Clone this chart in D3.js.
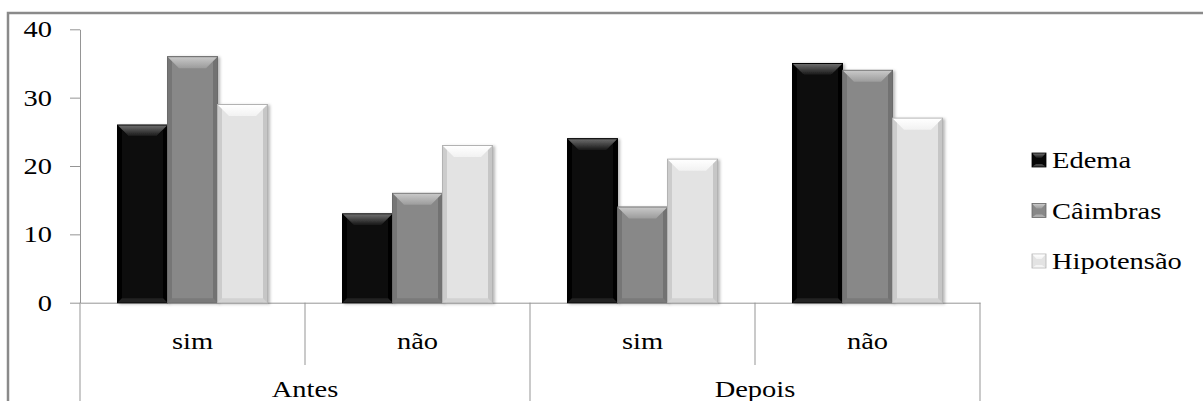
<!DOCTYPE html>
<html>
<head>
<meta charset="utf-8">
<script src="https://cdn.jsdelivr.net/npm/d3@7"></script>
<style>
  body { margin: 0; background: #fff; }
</style>
</head>
<body>
<div id="chart"></div>
<script>
// data
const groups = ['Antes', 'Depois'];
const answers = ['sim', 'não'];
const series = ['Edema', 'Câimbras', 'Hipotensão'];
const edema = [26, 13, 24, 35];
const caimbras = [36, 16, 14, 34];
const hipotensao = [29, 23, 21, 27];
const yTicks = [0, 10, 20, 30, 40];

const width = 1203;
const height = 401;
const stretch = 1.24;   // text in the picture is a bit wider than tall
const fontSize = 23;
const serif = '"Liberation Serif", "Times New Roman", "DejaVu Serif", serif';

const categories = [];
groups.forEach(g => answers.forEach(a => categories.push(g + '|' + a)));
const values = [edema, caimbras, hipotensao];
const rows = categories.map((c, i) => ({
    key: c,
    vals: series.map((s, j) => ({ s, j, v: values[j][i] }))
}));

// styles per series
const look = [
    { base: '#070707', stroke: '#000', top0: '#6c6c6c', top1: '#151515', edge: '#000', bottom: '#222' },
    { base: '#888888', stroke: '#6a6a6a', top0: '#c8c8c8', top1: '#9c9c9c', edge: '#727272', bottom: '#7a7a7a' },
    { base: '#e3e3e3', stroke: '#b3b3b3', top0: '#ffffff', top1: '#f2f2f2', edge: '#c6c6c6', bottom: '#d2d2d2' }
];

const svg = d3.select('#chart')
    .append('svg')
    .attr('width', width)
    .attr('height', height);

const defs = svg.append('defs');
const shadow = defs.append('filter').attr('id', 'shadow')
    .attr('x', '-20%').attr('y', '-10%').attr('width', '150%').attr('height', '130%');
shadow.append('feDropShadow')
    .attr('dx', 2).attr('dy', 1).attr('stdDeviation', 1.5)
    .attr('flood-color', '#000').attr('flood-opacity', 0.28);

look.forEach((l, i) => {
    const g = defs.append('linearGradient').attr('id', 'top' + i)
        .attr('x1', 0).attr('y1', 0).attr('x2', 0).attr('y2', 1);
    g.append('stop').attr('offset', '0%').attr('stop-color', l.top0);
    g.append('stop').attr('offset', '100%').attr('stop-color', l.top1);
});

// outer frame
svg.append('rect')
    .attr('x', 8).attr('y', 13)
    .attr('width', 1200).attr('height', 400)
    .attr('fill', 'none')
    .attr('stroke', '#8a8a8a')
    .attr('stroke-width', 2.5);

const x0 = d3.scaleBand()
    .domain(categories)
    .range([80, 980])
    .paddingInner(0)
    .paddingOuter(0);

const x1 = d3.scaleBand()
    .domain(series)
    .range([0, x0.bandwidth()])
    .paddingInner(0)
    .paddingOuter(0.75);

const y = d3.scaleLinear()
    .domain([0, 40])
    .range([302.7, 29.3]);

// y axis
const yAxis = svg.append('g')
    .attr('transform', 'translate(80,0)')
    .call(d3.axisLeft(y).tickValues(yTicks).tickSize(10).tickSizeOuter(0).tickPadding(18));
yAxis.attr('font-family', serif);
yAxis.selectAll('path, line').attr('stroke', '#959595');
yAxis.selectAll('text')
    .attr('font-size', fontSize)
    .style('font-family', serif)
    .attr('fill', '#000')
    .attr('x', -28 / stretch)
    .attr('dy', '0.33em')
    .attr('transform', `scale(${stretch},1)`);

// x axis
const xAxis = svg.append('g')
    .attr('transform', `translate(0,${y(0)})`)
    .call(d3.axisBottom(x0).tickSize(0).tickSizeOuter(0).tickFormat(d => d.split('|')[1]));
xAxis.attr('font-family', serif);
xAxis.select('path').attr('stroke', '#959595');
xAxis.selectAll('text')
    .attr('font-size', fontSize)
    .style('font-family', serif)
    .attr('fill', '#000')
    .attr('y', 0).attr('dy', 0)
    .attr('transform', `translate(0,46) scale(${stretch},1)`);

// category separators
const seps = [];
categories.forEach((c, i) => {
    seps.push({ x: x0(c), long: i % answers.length === 0 });
});
seps.push({ x: x0(categories[categories.length - 1]) + x0.bandwidth(), long: true });
svg.append('g').selectAll('line')
    .data(seps)
    .enter()
    .append('line')
    .attr('x1', d => d.x).attr('x2', d => d.x)
    .attr('y1', y(0))
    .attr('y2', d => d.long ? height + 2 : 365)
    .attr('stroke', '#959595')
    .attr('stroke-width', 1);

// group labels
svg.append('g').selectAll('text')
    .data(groups)
    .enter()
    .append('text')
    .attr('text-anchor', 'middle')
    .attr('font-size', fontSize)
    .style('font-family', serif)
    .attr('transform', d => `translate(${x0(d + '|' + answers[answers.length - 1])},397) scale(${stretch},1)`)
    .text(d => d);

// bars with a bevel look
const bevel = 11;
const side = 4;
const bars = svg.append('g').selectAll('g')
    .data(rows)
    .enter()
    .append('g')
    .attr('transform', d => `translate(${x0(d.key)},0)`)
    .selectAll('g')
    .data(d => d.vals)
    .enter()
    .append('g')
    .attr('filter', 'url(#shadow)');

bars.append('rect')
    .attr('x', d => x1(d.s))
    .attr('y', d => y(d.v))
    .attr('width', x1.bandwidth())
    .attr('height', d => y(0) - y(d.v))
    .attr('fill', d => look[d.j].base)
    .attr('stroke', d => look[d.j].stroke)
    .attr('stroke-width', 1);

// side strips
bars.append('rect')
    .attr('x', d => x1(d.s) + 0.5)
    .attr('y', d => y(d.v) + 0.5)
    .attr('width', side)
    .attr('height', d => y(0) - y(d.v) - 1)
    .attr('fill', d => look[d.j].edge)
    .attr('opacity', 0.8);
bars.append('rect')
    .attr('x', d => x1(d.s) + x1.bandwidth() - side - 0.5)
    .attr('y', d => y(d.v) + 0.5)
    .attr('width', side)
    .attr('height', d => y(0) - y(d.v) - 1)
    .attr('fill', d => look[d.j].edge);

// bottom bevel
bars.append('path')
    .attr('d', d => {
        const l = x1(d.s) + 0.5, r = l + x1.bandwidth() - 1, b = y(0) - 0.5;
        return `M${l},${b}L${r},${b}L${r - side},${b - 4}L${l + side},${b - 4}Z`;
    })
    .attr('fill', d => look[d.j].bottom);

// top bevel
bars.append('path')
    .attr('d', d => {
        const l = x1(d.s) + 0.5, r = l + x1.bandwidth() - 1, t = y(d.v) + 0.5;
        return `M${l},${t}L${r},${t}L${r - bevel},${t + bevel}L${l + bevel},${t + bevel}Z`;
    })
    .attr('fill', d => `url(#top${d.j})`);

// legend
const legend = svg.append('g').selectAll('g')
    .data(series)
    .enter()
    .append('g')
    .attr('transform', (d, i) => `translate(1032,${168 + i * 50.5})`);

legend.append('rect')
    .attr('x', 0).attr('y', -15)
    .attr('width', 14).attr('height', 14)
    .attr('fill', (d, i) => look[i].base)
    .attr('stroke', (d, i) => look[i].stroke)
    .attr('stroke-width', 0.8);
legend.append('path')
    .attr('d', 'M0.5,-14.5L13.5,-14.5L9.5,-10L4.5,-10Z')
    .attr('fill', (d, i) => `url(#top${i})`);
legend.append('path')
    .attr('d', 'M0.5,-1.5L13.5,-1.5L10,-4L4,-4Z')
    .attr('fill', (d, i) => look[i].top0)
    .attr('opacity', 0.6);

legend.append('text')
    .attr('font-size', fontSize)
    .style('font-family', serif)
    .attr('transform', `translate(20,0) scale(${stretch},1)`)
    .text(d => d);
</script>
</body>
</html>
